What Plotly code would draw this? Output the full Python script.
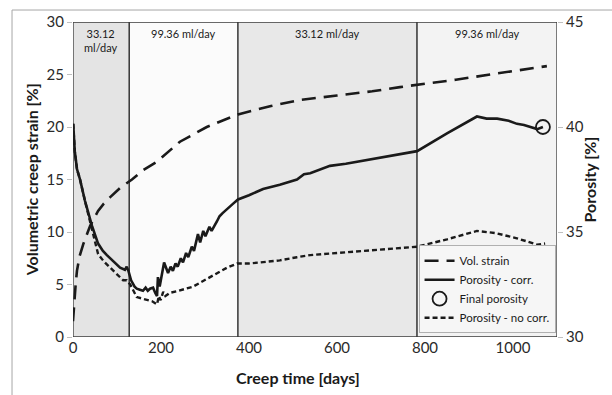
import plotly.graph_objects as go

# Creep time [days] and volumetric creep strain [%]
strain_days = [0, 3, 6, 9, 15, 23, 31, 39, 57, 70, 84, 107, 134, 160, 191, 243,
               304, 375, 450, 520, 600, 680, 743, 800, 870, 948, 1010, 1077]
vol_strain = [1.5, 3.5, 5.0, 6.3, 7.7, 8.8, 9.8, 10.6, 12.0, 12.7, 13.3, 14.2, 15.0,
              15.9, 16.7, 18.6, 20.0, 21.2, 22.0, 22.6, 23.0, 23.4, 23.8, 24.1,
              24.5, 25.0, 25.4, 25.8]

# Porosity with correction [%]
por_corr_days = [0.5, 2, 4, 9, 16, 27, 36, 43, 57, 68, 77, 90, 107, 118, 122, 126,
                 132, 140, 145, 152, 159, 165, 170, 175, 182, 187, 191, 193, 197,
                 207, 216, 222, 227, 233, 238, 245, 250, 257, 262, 270, 275, 284,
                 289, 296, 301, 310, 315, 327, 333, 340, 350, 364, 375, 400, 432,
                 470, 509, 525, 539, 584, 620, 659, 700, 736, 782, 850, 918, 940,
                 964, 990, 1009, 1025, 1039, 1055, 1068]
por_corr = [40.15, 39.2, 38.85, 38.0, 37.5, 36.5, 35.75, 35.3, 34.45, 34.1, 33.9,
            33.65, 33.3, 33.2, 33.35, 33.15, 32.7, 32.4, 32.3, 32.25, 32.2, 32.35,
            32.2, 32.3, 32.35, 32.1, 31.95, 32.85, 32.4, 33.55, 33.05, 33.35, 33.15,
            33.5, 33.35, 33.75, 33.55, 34.0, 33.8, 34.3, 34.1, 34.9, 34.5, 35.05,
            34.8, 35.25, 35.05, 35.5, 35.75, 35.9, 36.1, 36.35, 36.55, 36.75, 37.05,
            37.25, 37.5, 37.75, 37.8, 38.15, 38.25, 38.4, 38.55, 38.7, 38.85, 39.7,
            40.5, 40.4, 40.4, 40.3, 40.15, 40.1, 40.0, 39.9, 40.0]

# Porosity without correction [%]
por_nocorr_days = [0.5, 2, 4, 9, 16, 27, 36, 43, 50, 57, 70, 84, 100, 114, 122, 130,
                   145, 160, 168, 180, 191, 195, 199, 205, 210, 220, 240, 260, 273,
                   290, 311, 330, 350, 373, 400, 425, 470, 509, 539, 600, 659, 720,
                   782, 850, 918, 960, 1009, 1055, 1073]
por_nocorr = [40.15, 39.2, 38.85, 38.0, 37.5, 36.5, 35.75, 35.2, 34.5, 33.95, 33.6,
              33.3, 33.0, 32.7, 32.7, 32.5, 31.9, 31.8, 31.75, 31.7, 31.55, 31.95,
              31.75, 32.15, 31.95, 32.1, 32.2, 32.3, 32.4, 32.6, 32.85, 33.1, 33.3,
              33.5, 33.5, 33.55, 33.65, 33.8, 33.9, 34.0, 34.1, 34.2, 34.3, 34.65,
              35.05, 34.95, 34.7, 34.4, 34.45]

# Final measured porosity
final_day = [1068]
final_porosity = [40.0]

# Injection-rate stages
stage_bounds = [0, 128, 375, 782, 1100]
stage_labels = ["33.12<br>ml/day", "99.36 ml/day", "33.12 ml/day", "99.36 ml/day"]
stage_fills = ["#e4e4e4", "#fbfbfb", "#e8e8e8", "#f3f3f3"]

x_ticks = [0, 200, 400, 600, 800, 1000]
left_ticks = [0, 5, 10, 15, 20, 25, 30]
right_ticks = [30, 35, 40, 45]

FONT = "Lato"
INK = "#1a1a1a"

fig = go.Figure()

fig.add_trace(go.Scatter(
    x=strain_days, y=vol_strain, name="Vol. strain", mode="lines",
    line=dict(color=INK, width=2.6, dash="14px,8px"), yaxis="y"))
fig.add_trace(go.Scatter(
    x=por_corr_days, y=por_corr, name="Porosity - corr.", mode="lines",
    line=dict(color=INK, width=2.6), yaxis="y2"))
fig.add_trace(go.Scatter(
    x=final_day, y=final_porosity, name="Final porosity", mode="markers",
    marker=dict(symbol="circle-open", size=14, color=INK, line=dict(width=1.8)),
    yaxis="y2"))
fig.add_trace(go.Scatter(
    x=por_nocorr_days, y=por_nocorr, name="Porosity - no corr.", mode="lines",
    line=dict(color=INK, width=2.4, dash="5px,3px"), yaxis="y2"))

shapes = []
annotations = []
for i in range(len(stage_labels)):
    x0, x1 = stage_bounds[i], stage_bounds[i + 1]
    shapes.append(dict(type="rect", xref="x", yref="y", x0=x0, x1=x1, y0=0, y1=30,
                       fillcolor=stage_fills[i], line=dict(color="#3a3a3a", width=1.3),
                       layer="below"))
    annotations.append(dict(x=(x0 + x1) / 2, y=1, xref="x", yref="paper",
                            text=stage_labels[i], showarrow=False, yanchor="top",
                            yshift=-3, font=dict(family=FONT, size=11, color=INK)))

# Outer frame (left and top edges)
shapes.append(dict(type="line", xref="paper", yref="paper", x0=-0.126, x1=-0.126,
                   y0=-0.2, y1=1.038, line=dict(color="#a6a6a6", width=1)))
shapes.append(dict(type="line", xref="paper", yref="paper", x0=-0.126, x1=1.2,
                   y0=1.038, y1=1.038, line=dict(color="#a6a6a6", width=1)))

# Axis titles
annotations.append(dict(x=-0.085, y=0.5, xref="paper", yref="paper", xanchor="center",
                        yanchor="middle", textangle=-90, showarrow=False,
                        text="<b>Volumetric creep strain [%]</b>",
                        font=dict(family=FONT, size=16, color=INK)))
annotations.append(dict(x=1.068, y=0.5, xref="paper", yref="paper", xanchor="center",
                        yanchor="middle", textangle=-90, showarrow=False,
                        text="<b>Porosity [%]</b>",
                        font=dict(family=FONT, size=16, color=INK)))
annotations.append(dict(x=0.465, y=-0.128, xref="paper", yref="paper", xanchor="center",
                        yanchor="middle", showarrow=False,
                        text="<b>Creep time [days]</b>",
                        font=dict(family=FONT, size=16, color=INK)))

fig.update_layout(
    width=612, height=395,
    margin=dict(l=73, r=55, t=20, b=58),
    paper_bgcolor="white", plot_bgcolor="white",
    showlegend=True,
    font=dict(family=FONT, color="#333333"),
    xaxis=dict(range=[0, 1100], tickvals=x_ticks, showgrid=False, zeroline=False,
               showline=False, ticks="", tickfont=dict(family=FONT, size=15, color="#2a2a2a")),
    yaxis=dict(range=[0, 30], tickvals=left_ticks, showgrid=False, zeroline=False,
               showline=False, ticks="outside", ticklen=5, tickcolor="#bfbfbf",
               tickfont=dict(family=FONT, size=15, color="#2a2a2a")),
    yaxis2=dict(range=[30, 45], tickvals=right_ticks, overlaying="y", side="right",
                showgrid=False, zeroline=False, showline=False, ticks="outside",
                ticklen=5, tickcolor="#bfbfbf",
                tickfont=dict(family=FONT, size=15, color="#2a2a2a")),
    legend=dict(x=0.997, y=0.012, xanchor="right", yanchor="bottom",
                bgcolor="#f6f6f6", bordercolor="#b0b0b0", borderwidth=1,
                font=dict(family=FONT, size=11.5, color=INK),
                itemwidth=30, tracegroupgap=0,
                traceorder="normal"),
    shapes=shapes,
    annotations=annotations,
)

fig.write_html("out.html")
